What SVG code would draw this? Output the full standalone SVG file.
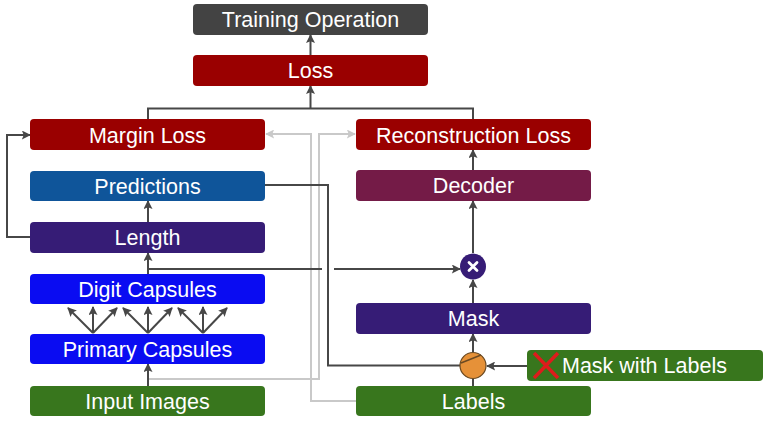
<svg xmlns="http://www.w3.org/2000/svg" width="768" height="422" viewBox="0 0 768 422">
<style>
.box{stroke:none}
.lbl{font-family:"Liberation Sans",Arial,sans-serif;font-size:21.5px;fill:#ffffff;text-anchor:middle}
.dk{fill:none;stroke:#474747;stroke-width:2}
.gr{fill:none;stroke:#c9c9c9;stroke-width:2}
.ad{marker-end:url(#ah)}
.ag{marker-end:url(#ahg)}
</style>
<defs>
<marker id="ah" viewBox="0 0 10 10" refX="9" refY="5" markerWidth="10" markerHeight="9" markerUnits="userSpaceOnUse" orient="auto">
<path d="M0,0 L10,5 L0,10 L2,5 z" fill="#474747"/>
</marker>
<marker id="ahg" viewBox="0 0 10 10" refX="9" refY="5" markerWidth="10" markerHeight="9" markerUnits="userSpaceOnUse" orient="auto">
<path d="M0,0 L10,5 L0,10 L2,5 z" fill="#c9c9c9"/>
</marker>
</defs>
<rect width="768" height="422" fill="#ffffff"/>

<g id="connectors">
<path class="gr ag" d="M148,379 H319 V134 H355"/>
<path class="gr ag" d="M356,401 H311 V134 H266"/>
<path class="dk ad" d="M310.5,55 V35"/>
<path class="dk" d="M148,119 V108.5 H473 V119"/>
<path class="dk ad" d="M310.5,108.5 V86"/>
<path class="dk ad" d="M148,222 V201"/>
<path class="dk ad" d="M148,274 V253"/>
<path class="dk ad" d="M30,237 H7 V135 H30"/>
<path class="dk" d="M148,269 H322"/>
<path class="dk ad" d="M334,269 H460"/>
<path class="dk" d="M265,185 H328 V365.5 H460"/>
<path class="dk ad" d="M473,253 V201"/>
<path class="dk ad" d="M473,170 V150"/>
<path class="dk ad" d="M473,303 V280"/>
<path class="dk ad" d="M473,352 V334"/>
<path class="dk" d="M473,386 V379"/>
<path class="dk ad" d="M527,366 H487"/>
<path class="dk ad" d="M148,386 V364"/>
<path class="dk ad" d="M93,333 L68,308"/>
<path class="dk ad" d="M93,333 V307"/>
<path class="dk ad" d="M93,333 L117,308"/>
<path class="dk ad" d="M148,333 L123,308"/>
<path class="dk ad" d="M148,333 V307"/>
<path class="dk ad" d="M148,333 L172,308"/>
<path class="dk ad" d="M203,333 L178,308"/>
<path class="dk ad" d="M203,333 V307"/>
<path class="dk ad" d="M203,333 L227,308"/>
</g>

<g id="training-operation"><rect class="box" x="193" y="4" width="235" height="31" rx="4" fill="#434343"/><text class="lbl" x="310.5" y="27">Training Operation</text></g>
<g id="loss"><rect class="box" x="193" y="55" width="235" height="31" rx="4" fill="#9a0000"/><text class="lbl" x="310.5" y="78">Loss</text></g>
<g id="margin-loss"><rect class="box" x="30" y="119" width="235" height="31" rx="4" fill="#9a0000"/><text class="lbl" x="147.5" y="142.5">Margin Loss</text></g>
<g id="predictions"><rect class="box" x="30" y="171" width="235" height="30" rx="4" fill="#0f559a"/><text class="lbl" x="147.5" y="193.5">Predictions</text></g>
<g id="length"><rect class="box" x="30" y="222" width="235" height="31" rx="4" fill="#361c76"/><text class="lbl" x="147.5" y="245">Length</text></g>
<g id="digit-capsules"><rect class="box" x="30" y="274" width="235" height="30" rx="4" fill="#0a0cf2"/><text class="lbl" x="147.5" y="297">Digit Capsules</text></g>
<g id="primary-capsules"><rect class="box" x="30" y="334" width="235" height="30" rx="4" fill="#0a0cf2"/><text class="lbl" x="147.5" y="357">Primary Capsules</text></g>
<g id="input-images"><rect class="box" x="30" y="386" width="235" height="30" rx="4" fill="#38761d"/><text class="lbl" x="147.5" y="408.5">Input Images</text></g>
<g id="reconstruction-loss"><rect class="box" x="356" y="119" width="235" height="31" rx="4" fill="#9a0000"/><text class="lbl" x="473.5" y="142.5">Reconstruction Loss</text></g>
<g id="decoder"><rect class="box" x="356" y="170" width="235" height="31" rx="4" fill="#741b47"/><text class="lbl" x="473.5" y="193">Decoder</text></g>
<g id="multiply"><circle cx="473" cy="266.5" r="13" fill="#361c76"/><path d="M469,262.5 L477,270.5 M477,262.5 L469,270.5" stroke="#ffffff" stroke-width="2.8" stroke-linecap="round"/></g>
<g id="mask"><rect class="box" x="356" y="303" width="235" height="31" rx="4" fill="#361c76"/><text class="lbl" x="473.5" y="326">Mask</text></g>
<g id="switch"><circle cx="473" cy="365.5" r="13" fill="#e69138" stroke="#6b4a22" stroke-width="1.2"/><path d="M461,363 L481,355" stroke="#6b4a22" stroke-width="1.5"/></g>
<g id="mask-with-labels"><rect class="box" x="527" y="350" width="236" height="31" rx="4" fill="#38761d"/><path d="M534,353 L558,378 M558,353 L534,378" stroke="#dd1c1c" stroke-width="3.5"/><text class="lbl" x="562" y="373" style="text-anchor:start">Mask with Labels</text></g>
<g id="labels"><rect class="box" x="356" y="386" width="235" height="30" rx="4" fill="#38761d"/><text class="lbl" x="473.5" y="408.5">Labels</text></g>
</svg>
